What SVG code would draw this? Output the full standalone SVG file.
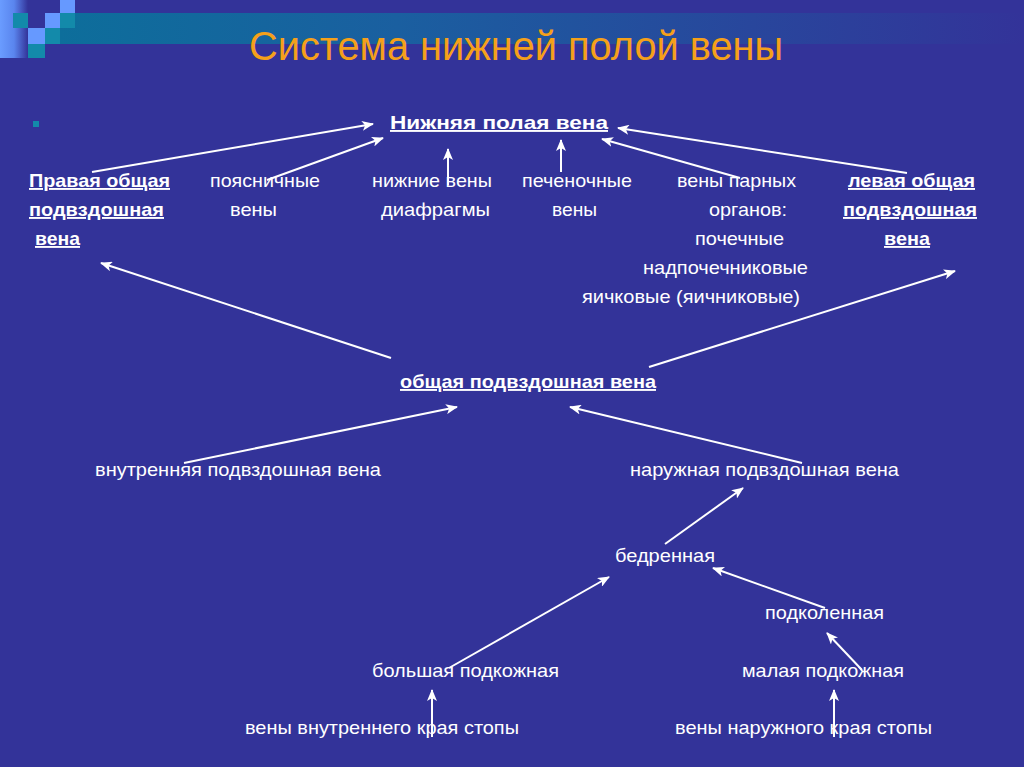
<svg xmlns="http://www.w3.org/2000/svg" width="1024" height="767" viewBox="0 0 1024 767">
<defs>
<linearGradient id="band" x1="0" y1="0" x2="1" y2="0">
<stop offset="0" stop-color="#0D6E9B"/>
<stop offset="0.35" stop-color="#1A5FA0"/>
<stop offset="1" stop-color="#333399"/>
</linearGradient>
<linearGradient id="strip" x1="0" y1="0" x2="1" y2="0">
<stop offset="0" stop-color="#6A9CFF"/>
<stop offset="0.5" stop-color="#5A85EE"/>
<stop offset="1" stop-color="#333399"/>
</linearGradient>
<marker id="ah" markerUnits="userSpaceOnUse" markerWidth="12" markerHeight="10" refX="11" refY="5" orient="auto">
<path d="M0,0 L12,5 L0,10 L3,5 Z" fill="#FFFFFF"/>
</marker>
</defs>
<style>
.t{font-family:"Liberation Sans",Arial,sans-serif;font-size:19px;fill:#FFFFFF;}
.b{font-weight:bold;text-decoration:underline;}
.title{font-family:"Liberation Sans",Arial,sans-serif;font-size:40px;fill:#F5A01A;}
.c line{stroke:#FFFFFF;stroke-width:2;marker-end:url(#ah);}
</style>
<rect width="1024" height="767" fill="#333399"/>
<g id="decor">
<rect x="60" y="13" width="964" height="31" fill="url(#band)"/>
<rect x="0" y="0" width="28" height="58" fill="url(#strip)"/>
<rect x="60" y="0" width="15" height="13" fill="#6699FF"/>
<rect x="45" y="13" width="15" height="15" fill="#6699FF"/>
<rect x="28" y="28" width="17" height="16" fill="#6699FF"/>
<rect x="13" y="13" width="15" height="15" fill="#138AAA"/>
<rect x="60" y="13" width="15" height="15" fill="#138AAA"/>
<rect x="45" y="28" width="15" height="16" fill="#138AAA"/>
<rect x="28" y="44" width="17" height="14" fill="#138AAA"/>
<rect x="33" y="121" width="6" height="6" fill="#138AAA"/>
</g>
<text class="title" x="249" y="60" textLength="534" lengthAdjust="spacingAndGlyphs">Система нижней полой вены</text>
<g class="c" id="connectors">
<line x1="92" y1="172" x2="373" y2="124"/>
<line x1="267" y1="180" x2="383" y2="138"/>
<line x1="448" y1="185" x2="448" y2="149"/>
<line x1="561" y1="172" x2="561" y2="140"/>
<line x1="740" y1="178" x2="602" y2="139"/>
<line x1="907" y1="173" x2="618" y2="128"/>
<line x1="391" y1="358" x2="101" y2="263"/>
<line x1="649" y1="367" x2="955" y2="271"/>
<line x1="184" y1="463" x2="457" y2="407"/>
<line x1="802" y1="463" x2="570" y2="407"/>
<line x1="665" y1="544" x2="743" y2="488"/>
<line x1="449" y1="668" x2="609" y2="577"/>
<line x1="825" y1="608" x2="713" y2="568"/>
<line x1="862" y1="670" x2="827" y2="633"/>
<line x1="432" y1="737" x2="432" y2="690"/>
<line x1="834" y1="737" x2="834" y2="690"/>
</g>
<g id="ivc"><text class="t b" x="390" y="129" textLength="218" lengthAdjust="spacingAndGlyphs">Нижняя полая вена</text></g>
<g id="right-common-iliac">
<text class="t b" x="29" y="187" textLength="141" lengthAdjust="spacingAndGlyphs">Правая общая</text>
<text class="t b" x="29" y="216" textLength="135" lengthAdjust="spacingAndGlyphs">подвздошная</text>
<text class="t b" x="35" y="245" textLength="45" lengthAdjust="spacingAndGlyphs">вена</text>
</g>
<g id="lumbar">
<text class="t" x="210" y="187" textLength="110" lengthAdjust="spacingAndGlyphs">поясничные</text>
<text class="t" x="230" y="216" textLength="47" lengthAdjust="spacingAndGlyphs">вены</text>
</g>
<g id="phrenic">
<text class="t" x="372" y="187" textLength="120" lengthAdjust="spacingAndGlyphs">нижние вены</text>
<text class="t" x="381" y="216" textLength="109" lengthAdjust="spacingAndGlyphs">диафрагмы</text>
</g>
<g id="hepatic">
<text class="t" x="522" y="187" textLength="110" lengthAdjust="spacingAndGlyphs">печеночные</text>
<text class="t" x="552" y="216" textLength="45" lengthAdjust="spacingAndGlyphs">вены</text>
</g>
<g id="paired">
<text class="t" x="677" y="187" textLength="119" lengthAdjust="spacingAndGlyphs">вены парных</text>
<text class="t" x="709" y="216" textLength="78" lengthAdjust="spacingAndGlyphs">органов:</text>
<text class="t" x="695" y="245" textLength="89" lengthAdjust="spacingAndGlyphs">почечные</text>
<text class="t" x="643" y="274" textLength="165" lengthAdjust="spacingAndGlyphs">надпочечниковые</text>
<text class="t" x="582" y="303" textLength="218" lengthAdjust="spacingAndGlyphs">яичковые (яичниковые)</text>
</g>
<g id="left-common-iliac">
<text class="t b" x="848" y="187" textLength="127" lengthAdjust="spacingAndGlyphs">левая общая</text>
<text class="t b" x="843" y="216" textLength="134" lengthAdjust="spacingAndGlyphs">подвздошная</text>
<text class="t b" x="884" y="245" textLength="46" lengthAdjust="spacingAndGlyphs">вена</text>
</g>
<g id="common-iliac"><text class="t b" x="400" y="388" textLength="256" lengthAdjust="spacingAndGlyphs">общая подвздошная вена</text></g>
<g id="internal-iliac"><text class="t" x="95" y="476" textLength="286" lengthAdjust="spacingAndGlyphs">внутренняя подвздошная вена</text></g>
<g id="external-iliac"><text class="t" x="630" y="476" textLength="269" lengthAdjust="spacingAndGlyphs">наружная подвздошная вена</text></g>
<g id="femoral"><text class="t" x="615" y="562" textLength="100" lengthAdjust="spacingAndGlyphs">бедренная</text></g>
<g id="popliteal"><text class="t" x="765" y="619" textLength="119" lengthAdjust="spacingAndGlyphs">подколенная</text></g>
<g id="great-saphenous"><text class="t" x="372" y="677" textLength="187" lengthAdjust="spacingAndGlyphs">большая подкожная</text></g>
<g id="small-saphenous"><text class="t" x="742" y="677" textLength="162" lengthAdjust="spacingAndGlyphs">малая подкожная</text></g>
<g id="medial-foot"><text class="t" x="245" y="734" textLength="274" lengthAdjust="spacingAndGlyphs">вены внутреннего края стопы</text></g>
<g id="lateral-foot"><text class="t" x="675" y="734" textLength="257" lengthAdjust="spacingAndGlyphs">вены наружного края стопы</text></g>
</svg>
